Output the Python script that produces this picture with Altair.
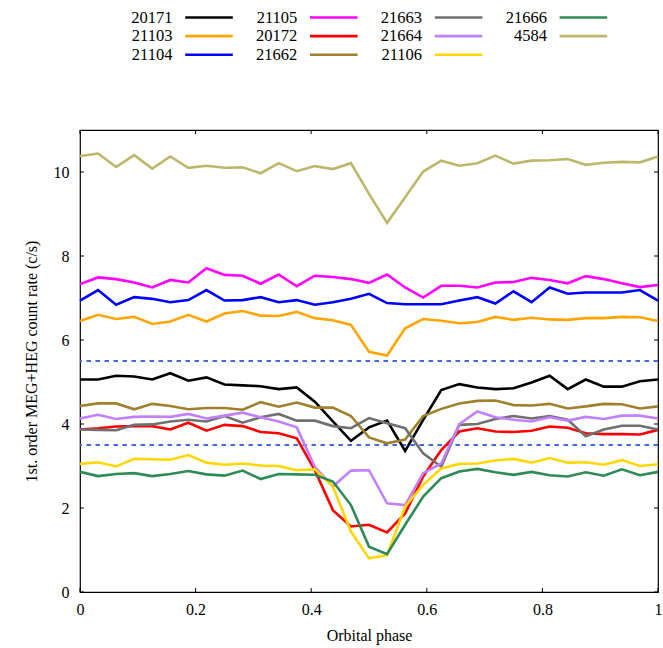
import altair as alt
import pandas as pd

# ---------------- data ----------------
phase = [i / 32 for i in range(33)]

series_names = ["20171", "21103", "21104", "21105", "20172", "21662",
                "21663", "21664", "21106", "21666", "4584"]
series_colors = ["#000000", "#ffa500", "#0000ff", "#ff00ff", "#ff0000", "#a0802a",
                 "#707070", "#c080ff", "#ffd700", "#2e8b57", "#bdb76b"]

s20171 = [5.06, 5.06, 5.15, 5.13, 5.06, 5.21, 5.03, 5.11, 4.94, 4.92, 4.90, 4.83, 4.87, 4.53, 4.06, 3.60,
          3.92, 4.08, 3.36, 4.10, 4.81, 4.95, 4.87, 4.83, 4.85, 4.99, 5.15, 4.83, 5.06, 4.89, 4.89, 5.02, 5.06]
s21103 = [6.45, 6.60, 6.50, 6.55, 6.38, 6.44, 6.60, 6.44, 6.63, 6.69, 6.58, 6.57, 6.67, 6.52, 6.47, 6.36,
          5.72, 5.63, 6.28, 6.50, 6.46, 6.40, 6.43, 6.55, 6.48, 6.53, 6.49, 6.48, 6.52, 6.52, 6.55, 6.54, 6.45]
s21104 = [6.94, 7.19, 6.84, 7.02, 6.98, 6.90, 6.95, 7.19, 6.94, 6.95, 7.02, 6.90, 6.95, 6.84, 6.90, 6.98,
          7.10, 6.88, 6.85, 6.85, 6.85, 6.94, 7.02, 6.87, 7.16, 6.90, 7.25, 7.10, 7.13, 7.13, 7.13, 7.19, 6.94]
s21105 = [7.33, 7.49, 7.45, 7.37, 7.25, 7.43, 7.37, 7.71, 7.55, 7.53, 7.34, 7.56, 7.28, 7.53, 7.50, 7.45,
          7.36, 7.56, 7.25, 7.01, 7.29, 7.29, 7.25, 7.37, 7.38, 7.48, 7.43, 7.35, 7.52, 7.45, 7.35, 7.26, 7.31]
s20172 = [3.87, 3.90, 3.94, 3.95, 3.95, 3.87, 4.03, 3.84, 3.98, 3.95, 3.81, 3.78, 3.66, 2.90, 1.95, 1.56,
          1.60, 1.42, 1.87, 2.75, 3.38, 3.82, 3.90, 3.82, 3.81, 3.84, 3.94, 3.91, 3.78, 3.76, 3.76, 3.75, 3.86]
s21662 = [4.43, 4.49, 4.49, 4.35, 4.48, 4.43, 4.35, 4.38, 4.38, 4.34, 4.52, 4.41, 4.51, 4.39, 4.39, 4.19,
          3.68, 3.54, 3.63, 4.19, 4.36, 4.49, 4.55, 4.56, 4.45, 4.44, 4.48, 4.37, 4.42, 4.48, 4.47, 4.37, 4.42]
s21663 = [3.87, 3.86, 3.85, 3.98, 3.99, 4.06, 4.10, 4.06, 4.19, 4.03, 4.16, 4.24, 4.08, 4.08, 3.95, 3.90,
          4.14, 4.02, 3.90, 3.30, 2.98, 3.98, 4.00, 4.12, 4.19, 4.13, 4.19, 4.10, 3.71, 3.87, 3.96, 3.96, 3.87]
s21664 = [4.13, 4.22, 4.12, 4.17, 4.18, 4.17, 4.24, 4.13, 4.20, 4.27, 4.16, 4.06, 3.92, 2.98, 2.51, 2.89,
          2.90, 2.11, 2.07, 2.83, 3.06, 4.00, 4.30, 4.16, 4.10, 4.06, 4.16, 4.08, 4.17, 4.12, 4.20, 4.20, 4.13]
s21106 = [3.05, 3.09, 2.99, 3.17, 3.16, 3.15, 3.26, 3.08, 3.03, 3.06, 3.01, 3.00, 2.90, 2.92, 2.51, 1.44,
          0.80, 0.88, 2.03, 2.55, 2.94, 3.05, 3.06, 3.13, 3.17, 3.08, 3.19, 3.08, 3.09, 3.03, 3.14, 3.00, 3.04]
s21666 = [2.86, 2.76, 2.81, 2.83, 2.76, 2.81, 2.88, 2.80, 2.77, 2.89, 2.69, 2.81, 2.80, 2.79, 2.63, 2.07,
          1.08, 0.90, 1.60, 2.27, 2.71, 2.87, 2.93, 2.85, 2.79, 2.86, 2.78, 2.75, 2.85, 2.77, 2.92, 2.78, 2.86]
s4584 = [10.38, 10.44, 10.12, 10.40, 10.08, 10.37, 10.10, 10.15, 10.10, 10.11, 9.97, 10.21, 10.02, 10.14, 10.07, 10.21,
         9.48, 8.79, 9.40, 10.01, 10.27, 10.15, 10.21, 10.39, 10.20, 10.27, 10.28, 10.31, 10.17, 10.22, 10.24, 10.23, 10.37]

series_values = [s20171, s21103, s21104, s21105, s20172, s21662,
                 s21663, s21664, s21106, s21666, s4584]

threshold_levels = [3.5, 5.5]
x_tick_values = [0, 0.2, 0.4, 0.6, 0.8, 1.0]
y_tick_values = [0, 2, 4, 6, 8, 10]

# ---------------- tables ----------------
rows = []
for name, vals in zip(series_names, series_values):
    for p, v in zip(phase, vals):
        rows.append({"phase": p, "rate": v, "series": name})
df = pd.DataFrame(rows)

leg = pd.DataFrame({
    "series": series_names,
    "col": [i // 3 for i in range(len(series_names))],
    "row": [i % 3 for i in range(len(series_names))],
})

W, H = 578, 462
FONT = "Liberation Serif"

xs = alt.Scale(domain=[0, 1], nice=False, zero=False)
ys = alt.Scale(domain=[0, 11], nice=False, zero=False)
cs = alt.Scale(domain=series_names, range=series_colors)

xaxis = alt.Axis(title="Orbital phase", values=x_tick_values, format="~g", ticks=False,
                 domain=False, grid=False, labelFont=FONT, labelFontSize=16, labelColor="black",
                 labelPadding=9, labelFlush=False, titleFont=FONT, titleFontSize=16,
                 titleFontWeight="normal", titleColor="black", titlePadding=10)
yaxis = alt.Axis(title="1st. order MEG+HEG count rate (c/s)", values=y_tick_values, ticks=False,
                 domain=False, grid=False, labelFont=FONT, labelFontSize=16, labelColor="black",
                 labelPadding=11, labelFlush=False, titleFont=FONT, titleFontSize=16,
                 titleFontWeight="normal", titleColor="black", titlePadding=14)

X = lambda f: alt.X(f, scale=xs, axis=xaxis)
Y = lambda f: alt.Y(f, scale=ys, axis=yaxis)

layers = []

# dashed threshold lines
thr = pd.DataFrame({"v": threshold_levels})
layers.append(alt.Chart(thr).mark_rule(color="#4169e1", strokeWidth=2, strokeDash=[4.5, 4.5]).encode(
    y=Y("v:Q")))

# series lines, drawn in legend order
for name in series_names:
    layers.append(
        alt.Chart(df).transform_filter(alt.datum.series == name)
        .mark_line(strokeWidth=2.6)
        .encode(x=X("phase:Q"), y=Y("rate:Q"),
                color=alt.Color("series:N", scale=cs, legend=None))
    )

# inward tick marks (gnuplot style, mirrored)
xt = pd.DataFrame({"v": x_tick_values})
yt = pd.DataFrame({"v": y_tick_values})
layers.append(alt.Chart(xt).mark_rule(color="black", strokeWidth=1).encode(
    x=X("v:Q"), y=alt.value(H), y2=alt.value(H - 4)))
layers.append(alt.Chart(xt).mark_rule(color="black", strokeWidth=1).encode(
    x=X("v:Q"), y=alt.value(0), y2=alt.value(4)))
layers.append(alt.Chart(yt).mark_rule(color="black", strokeWidth=1).encode(
    y=Y("v:Q"), x=alt.value(0), x2=alt.value(4)))
layers.append(alt.Chart(yt).mark_rule(color="black", strokeWidth=1).encode(
    y=Y("v:Q"), x=alt.value(W - 4), x2=alt.value(W)))

# key above the plot (gnuplot style: label, then line sample), 4 columns
leg_base = alt.Chart(leg).transform_calculate(
    lx=f"(92.5 + 124.8 * datum.col) / {W}",
    lx1=f"(105.2 + 124.8 * datum.col) / {W}",
    lx2=f"(152.8 + 124.8 * datum.col) / {W}",
    ly=f"11 + (112.5 - 18.6 * datum.row) / {H / 11}",
)
layers.append(leg_base.mark_text(align="right", baseline="middle", font=FONT, fontSize=16.5,
                                 color="black").encode(
    x=X("lx:Q"), y=Y("ly:Q"), text="series:N"))
layers.append(leg_base.mark_rule(strokeWidth=2.6).encode(
    x=X("lx1:Q"), x2="lx2:Q", y=Y("ly:Q"),
    color=alt.Color("series:N", scale=cs, legend=None)))

chart = alt.layer(*layers).properties(
    width=W, height=H,
    autosize=alt.AutoSizeParams(type="none"),
    padding={"left": 80, "top": 130, "right": 5, "bottom": 56},
    background="white",
).configure_view(stroke="black", strokeWidth=1.2)

chart.save("out.html", embed_options={"renderer": "svg", "actions": False})
